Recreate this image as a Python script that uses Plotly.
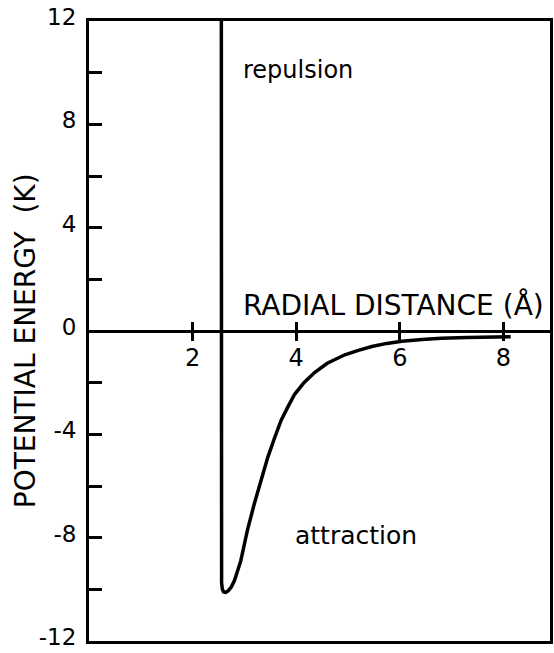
import plotly.graph_objects as go

# Data (radial distance in Å, potential energy in K)
r_vals = [2.555, 2.555, 2.56, 2.575, 2.60, 2.64, 2.69, 2.75, 2.81, 2.93, 3.06, 3.19,
          3.32, 3.45, 3.58, 3.71, 3.85, 3.97, 4.15, 4.36, 4.60, 4.94, 5.20, 5.46,
          5.75, 6.04, 6.43, 6.80, 7.30, 7.80, 8.14]
u_vals = [12.0, -9.3, -9.75, -10.0, -10.1, -10.12, -10.05, -9.9, -9.65, -8.9, -7.7, -6.7,
          -5.8, -4.9, -4.15, -3.45, -2.9, -2.45, -2.0, -1.6, -1.25, -0.92, -0.75, -0.6,
          -0.48, -0.40, -0.33, -0.28, -0.25, -0.23, -0.22]

x_tick_vals = [2, 4, 6, 8]
x_tick_text = ["2", "4", "6", "8"]
y_tick_vals = [-12, -10, -8, -6, -4, -2, 0, 2, 4, 6, 8, 10, 12]
y_tick_text = ["-12", "", "-8", "", "-4", "", "0", "", "4", "", "8", "", "12"]

x_range = [0, 8.9]
y_range = [-12, 12]

FONT = "DejaVu Sans"

fig = go.Figure()
fig.add_trace(go.Scatter(x=r_vals, y=u_vals, mode="lines", xaxis="x2",
                         line=dict(color="black", width=3.5), showlegend=False,
                         hoverinfo="skip"))
fig.add_trace(go.Scatter(x=[None], y=[None], mode="lines", xaxis="x3",
                         showlegend=False, hoverinfo="skip"))

common_x = dict(range=x_range, showgrid=False, zeroline=False, automargin=False)

fig.update_layout(
    width=554, height=653,
    margin=dict(l=89, r=4, t=21, b=12),
    paper_bgcolor="white", plot_bgcolor="white",
    font=dict(family=FONT, color="black", size=24),
    xaxis=dict(**common_x, showline=True, linecolor="black", linewidth=3,
               mirror=True, ticks="", showticklabels=False),
    xaxis2=dict(**common_x, overlaying="x", anchor="free", position=0.5,
                showline=False, tickvals=x_tick_vals, ticktext=x_tick_text,
                ticks="outside", ticklen=9, tickwidth=2.5, tickcolor="black",
                ticklabelstandoff=-4,
                tickfont=dict(size=24, family=FONT, color="black")),
    xaxis3=dict(**common_x, overlaying="x", anchor="free", position=0.5,
                showline=False, tickvals=x_tick_vals, ticks="inside",
                ticklen=9, tickwidth=2.5, tickcolor="black", showticklabels=False),
    yaxis=dict(range=y_range, showgrid=False, showline=True, linecolor="black",
               linewidth=3, mirror=True, zeroline=True, zerolinecolor="black",
               zerolinewidth=2.5, tickvals=y_tick_vals, ticktext=y_tick_text,
               ticks="inside", ticklen=13, tickwidth=2.5, tickcolor="black",
               ticklabelstandoff=5, ticklabelshift=-4, ticklabeloverflow="allow",
               automargin=False,
               tickfont=dict(size=23, family=FONT, color="black")),
    annotations=[
        dict(x=-0.139, y=0.485, xref="paper", yref="paper",
             text="POTENTIAL ENERGY  (K)", textangle=-90, showarrow=False,
             xanchor="center", yanchor="middle", font=dict(size=28, family=FONT)),
        dict(x=2.93, y=10.1, xref="x", yref="y", text="repulsion", showarrow=False,
             xanchor="left", yanchor="middle", font=dict(size=24, family=FONT)),
        dict(x=3.94, y=-7.9, xref="x", yref="y", text="attraction", showarrow=False,
             xanchor="left", yanchor="middle", font=dict(size=25, family=FONT)),
        dict(x=8.83, y=1.0, xref="x", yref="y", text="RADIAL DISTANCE (Å)",
             showarrow=False, xanchor="right", yanchor="middle",
             font=dict(size=28, family=FONT)),
    ],
)

fig.write_html("out.html", config={"displayModeBar": False},
               post_script="document.body.style.margin='0';")
